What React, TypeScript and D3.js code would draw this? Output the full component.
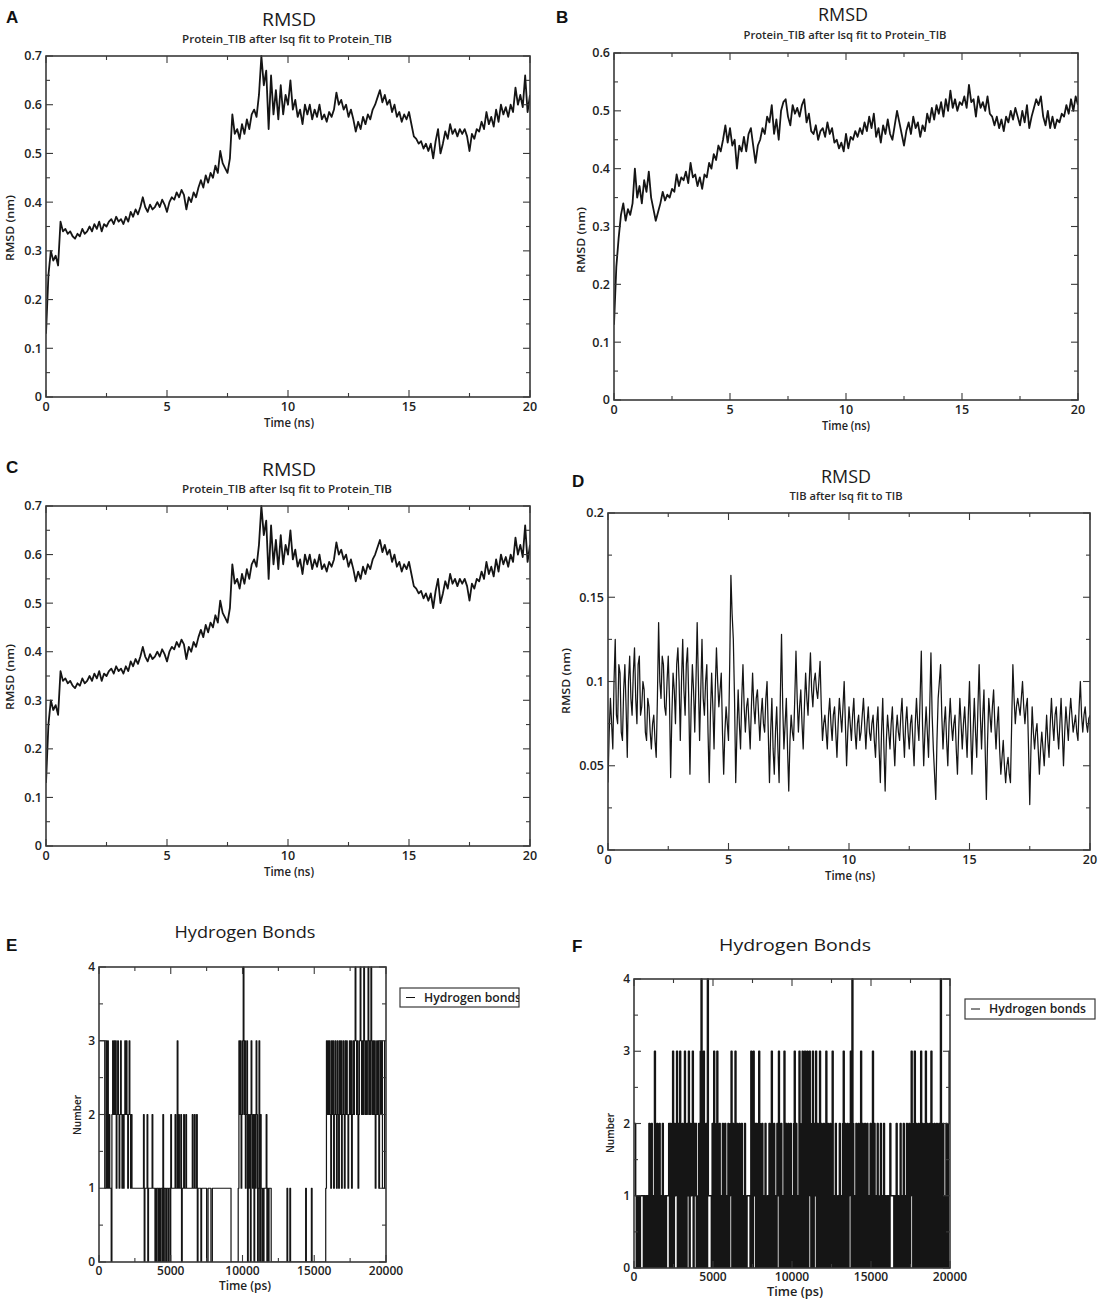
import React from 'react';
import * as d3 from 'd3';

// sampling intervals of the trajectories
const RMSD_STEP_NS = 0.1;
const LIGAND_STEP_NS = 0.05;
const HB_STEP_PS = 50;

// A / C: Protein_TIB backbone RMSD (nm), one value every 0.1 ns
const rmsdProteinA = [
  0.13, 0.25, 0.30, 0.28, 0.29, 0.27, 0.36, 0.34, 0.345, 0.335,
  0.34, 0.33, 0.325, 0.335, 0.33, 0.345, 0.335, 0.34, 0.35, 0.34,
  0.355, 0.345, 0.36, 0.34, 0.355, 0.35, 0.36, 0.365, 0.355, 0.37,
  0.36, 0.365, 0.355, 0.37, 0.36, 0.38, 0.37, 0.385, 0.375, 0.39,
  0.41, 0.39, 0.38, 0.395, 0.385, 0.39, 0.40, 0.39, 0.405, 0.395,
  0.38, 0.40, 0.41, 0.405, 0.42, 0.41, 0.425, 0.415, 0.385, 0.41,
  0.40, 0.42, 0.41, 0.43, 0.445, 0.43, 0.455, 0.44, 0.46, 0.45,
  0.475, 0.46, 0.505, 0.48, 0.47, 0.46, 0.49, 0.58, 0.54, 0.55,
  0.53, 0.56, 0.54, 0.57, 0.55, 0.58, 0.59, 0.575, 0.62, 0.70,
  0.64, 0.67, 0.55, 0.66, 0.58, 0.63, 0.57, 0.64, 0.58, 0.62,
  0.60, 0.65, 0.59, 0.61, 0.575, 0.59, 0.56, 0.60, 0.58, 0.60,
  0.57, 0.59, 0.575, 0.60, 0.57, 0.58, 0.565, 0.585, 0.575, 0.59,
  0.625, 0.60, 0.61, 0.59, 0.60, 0.575, 0.59, 0.57, 0.545, 0.565,
  0.55, 0.575, 0.56, 0.58, 0.57, 0.59, 0.60, 0.615, 0.63, 0.605,
  0.62, 0.60, 0.61, 0.585, 0.60, 0.575, 0.585, 0.565, 0.58, 0.57,
  0.585, 0.56, 0.535, 0.53, 0.52, 0.525, 0.51, 0.52, 0.505, 0.52,
  0.49, 0.525, 0.55, 0.50, 0.52, 0.545, 0.53, 0.56, 0.54, 0.55,
  0.535, 0.55, 0.54, 0.55, 0.535, 0.505, 0.54, 0.53, 0.55, 0.545,
  0.565, 0.55, 0.585, 0.56, 0.575, 0.555, 0.59, 0.565, 0.60, 0.58,
  0.595, 0.575, 0.60, 0.585, 0.635, 0.60, 0.62, 0.595, 0.66, 0.585,
  0.62,
];

// B: Protein_TIB RMSD (nm)
const rmsdProteinB = [
  0.13, 0.23, 0.28, 0.32, 0.34, 0.31, 0.33, 0.32, 0.34, 0.40,
  0.35, 0.37, 0.34, 0.38, 0.36, 0.395, 0.35, 0.33, 0.31, 0.325,
  0.34, 0.36, 0.345, 0.355, 0.35, 0.365, 0.36, 0.39, 0.37, 0.385,
  0.38, 0.395, 0.375, 0.41, 0.385, 0.39, 0.37, 0.385, 0.365, 0.39,
  0.385, 0.41, 0.40, 0.425, 0.415, 0.44, 0.43, 0.45, 0.475, 0.445,
  0.47, 0.44, 0.45, 0.40, 0.44, 0.43, 0.455, 0.43, 0.46, 0.47,
  0.44, 0.41, 0.44, 0.45, 0.47, 0.46, 0.49, 0.48, 0.51, 0.46,
  0.485, 0.45, 0.50, 0.515, 0.52, 0.49, 0.475, 0.51, 0.495, 0.505,
  0.49, 0.51, 0.52, 0.48, 0.495, 0.465, 0.46, 0.475, 0.45, 0.465,
  0.47, 0.455, 0.48, 0.46, 0.47, 0.445, 0.45, 0.435, 0.445, 0.43,
  0.46, 0.435, 0.455, 0.45, 0.465, 0.455, 0.47, 0.46, 0.48, 0.465,
  0.49, 0.47, 0.495, 0.455, 0.47, 0.445, 0.475, 0.46, 0.485, 0.46,
  0.45, 0.475, 0.50, 0.48, 0.46, 0.44, 0.465, 0.48, 0.46, 0.49,
  0.47, 0.48, 0.455, 0.475, 0.465, 0.495, 0.48, 0.505, 0.485, 0.51,
  0.495, 0.515, 0.49, 0.52, 0.50, 0.535, 0.505, 0.52, 0.50, 0.515,
  0.51, 0.525, 0.505, 0.545, 0.515, 0.52, 0.49, 0.525, 0.505, 0.515,
  0.50, 0.525, 0.495, 0.49, 0.475, 0.49, 0.47, 0.485, 0.465, 0.49,
  0.48, 0.50, 0.485, 0.505, 0.49, 0.475, 0.50, 0.48, 0.51, 0.47,
  0.49, 0.505, 0.52, 0.51, 0.525, 0.49, 0.475, 0.50, 0.47, 0.49,
  0.47, 0.485, 0.48, 0.495, 0.49, 0.51, 0.495, 0.52, 0.50, 0.525,
  0.51,
];

// D: TIB ligand RMSD (nm), one value every 0.05 ns
const rmsdLigandD = [
  0.04, 0.07, 0.09, 0.075, 0.06, 0.10, 0.125, 0.08, 0.075, 0.11, 0.105, 0.07, 0.065, 0.095, 0.11, 0.085, 0.055, 0.10, 0.115, 0.09,
  0.08, 0.105, 0.12, 0.09, 0.075, 0.11, 0.115, 0.08, 0.085, 0.10, 0.095, 0.07, 0.065, 0.09, 0.085, 0.07, 0.06, 0.075, 0.08, 0.065,
  0.055, 0.09, 0.135, 0.10, 0.09, 0.115, 0.11, 0.085, 0.08, 0.10, 0.115, 0.09, 0.043, 0.08, 0.105, 0.095, 0.075, 0.11, 0.12, 0.10,
  0.065, 0.10, 0.125, 0.095, 0.08, 0.11, 0.12, 0.09, 0.045, 0.085, 0.11, 0.095, 0.07, 0.10, 0.135, 0.10, 0.065, 0.095, 0.125, 0.09,
  0.08, 0.10, 0.11, 0.07, 0.04, 0.08, 0.105, 0.085, 0.06, 0.095, 0.12, 0.10, 0.085, 0.095, 0.105, 0.07, 0.045, 0.07, 0.085, 0.075,
  0.065, 0.11, 0.163, 0.14, 0.125, 0.09, 0.04, 0.07, 0.095, 0.075, 0.06, 0.09, 0.11, 0.085, 0.07, 0.085, 0.09, 0.075, 0.06, 0.085,
  0.105, 0.085, 0.075, 0.09, 0.095, 0.08, 0.065, 0.08, 0.09, 0.075, 0.07, 0.09, 0.10, 0.07, 0.04, 0.07, 0.09, 0.06, 0.045, 0.07,
  0.085, 0.06, 0.04, 0.09, 0.128, 0.085, 0.06, 0.075, 0.09, 0.06, 0.035, 0.065, 0.08, 0.07, 0.065, 0.09, 0.118, 0.09, 0.07, 0.085,
  0.095, 0.075, 0.06, 0.085, 0.105, 0.09, 0.08, 0.10, 0.117, 0.095, 0.085, 0.10, 0.105, 0.095, 0.09, 0.10, 0.112, 0.085, 0.065, 0.075,
  0.08, 0.07, 0.06, 0.08, 0.09, 0.075, 0.065, 0.08, 0.085, 0.07, 0.055, 0.075, 0.09, 0.08, 0.07, 0.085, 0.10, 0.075, 0.05, 0.07,
  0.085, 0.075, 0.065, 0.08, 0.09, 0.07, 0.06, 0.075, 0.08, 0.065, 0.07, 0.08, 0.09, 0.075, 0.06, 0.075, 0.085, 0.07, 0.065, 0.075,
  0.08, 0.065, 0.055, 0.075, 0.085, 0.06, 0.04, 0.07, 0.09, 0.06, 0.035, 0.065, 0.08, 0.07, 0.06, 0.075, 0.085, 0.065, 0.05, 0.07,
  0.08, 0.07, 0.065, 0.08, 0.09, 0.07, 0.055, 0.075, 0.085, 0.07, 0.06, 0.075, 0.08, 0.065, 0.05, 0.075, 0.09, 0.075, 0.065, 0.09,
  0.118, 0.075, 0.05, 0.07, 0.085, 0.07, 0.055, 0.085, 0.117, 0.08, 0.06, 0.045, 0.03, 0.065, 0.09, 0.10, 0.11, 0.08, 0.06, 0.075,
  0.085, 0.065, 0.05, 0.075, 0.09, 0.075, 0.065, 0.075, 0.08, 0.06, 0.045, 0.07, 0.09, 0.075, 0.06, 0.075, 0.085, 0.07, 0.055, 0.08,
  0.10, 0.07, 0.045, 0.07, 0.09, 0.07, 0.055, 0.085, 0.11, 0.08, 0.06, 0.08, 0.095, 0.06, 0.03, 0.065, 0.09, 0.08, 0.07, 0.085,
  0.095, 0.075, 0.06, 0.075, 0.085, 0.06, 0.045, 0.055, 0.065, 0.05, 0.04, 0.05, 0.055, 0.045, 0.04, 0.075, 0.11, 0.09, 0.075, 0.085,
  0.09, 0.085, 0.08, 0.09, 0.10, 0.085, 0.075, 0.085, 0.09, 0.06, 0.027, 0.06, 0.085, 0.07, 0.06, 0.07, 0.075, 0.06, 0.045, 0.06,
  0.07, 0.06, 0.05, 0.065, 0.08, 0.065, 0.055, 0.075, 0.09, 0.075, 0.065, 0.08, 0.085, 0.07, 0.06, 0.075, 0.09, 0.07, 0.05, 0.07,
  0.085, 0.075, 0.065, 0.08, 0.09, 0.08, 0.07, 0.075, 0.08, 0.07, 0.065, 0.085, 0.10, 0.08, 0.07, 0.08, 0.085, 0.075, 0.07, 0.078,
  0.08,
];

// E: hydrogen bonds protein-TIB, one count every 50 ps
const hbondsE = [
  3, 3, 3, 3, 3, 3, 3, 3, 1, 1, 3, 1, 3, 1, 2, 1, 1, 0, 2, 3,
  2, 3, 2, 3, 1, 2, 3, 2, 1, 2, 3, 2, 1, 2, 1, 2, 3, 2, 3, 2,
  1, 2, 3, 2, 1, 2, 1, 1, 1, 1, 1, 1, 1, 1, 1, 1, 1, 1, 1, 1,
  1, 1, 2, 0, 1, 1, 1, 2, 0, 1, 1, 1, 1, 1, 2, 1, 1, 1, 0, 1,
  0, 1, 1, 0, 1, 0, 1, 1, 0, 2, 0, 1, 1, 0, 1, 1, 0, 1, 1, 0,
  2, 1, 1, 1, 1, 1, 2, 1, 1, 3, 1, 2, 1, 1, 2, 0, 1, 1, 2, 1,
  1, 2, 1, 1, 1, 1, 1, 1, 1, 1, 2, 1, 1, 2, 1, 1, 2, 0, 1, 1,
  1, 1, 0, 1, 1, 1, 1, 1, 1, 1, 0, 0, 1, 1, 1, 1, 0, 0, 1, 1,
  1, 1, 1, 1, 1, 1, 1, 1, 1, 1, 1, 1, 1, 1, 1, 1, 1, 1, 1, 1,
  1, 1, 1, 1, 0, 0, 0, 0, 0, 0, 0, 0, 0, 0, 1, 3, 2, 3, 1, 2,
  3, 4, 2, 3, 1, 2, 3, 0, 2, 1, 2, 0, 3, 2, 1, 2, 0, 2, 1, 3,
  2, 0, 1, 3, 0, 2, 1, 0, 1, 0, 1, 1, 1, 2, 0, 1, 0, 1, 1, 1,
  0, 0, 0, 0, 0, 0, 0, 0, 0, 0, 0, 0, 0, 0, 0, 0, 0, 0, 0, 0,
  0, 0, 1, 0, 0, 0, 1, 0, 0, 0, 0, 0, 0, 0, 0, 0, 0, 0, 0, 0,
  0, 0, 0, 0, 0, 0, 0, 0, 1, 0, 0, 0, 0, 0, 0, 0, 1, 0, 0, 0,
  0, 0, 0, 0, 0, 0, 0, 0, 0, 0, 0, 0, 0, 0, 0, 0, 1, 3, 2, 3,
  2, 3, 2, 1, 3, 2, 3, 1, 2, 3, 2, 1, 3, 2, 1, 3, 2, 3, 1, 2,
  3, 2, 1, 3, 2, 3, 2, 1, 2, 3, 2, 3, 1, 2, 3, 2, 3, 4, 3, 2,
  3, 1, 2, 3, 4, 3, 2, 3, 2, 4, 3, 2, 3, 2, 3, 4, 2, 3, 2, 4,
  3, 2, 3, 2, 3, 1, 2, 3, 2, 3, 1, 2, 3, 2, 3, 1, 1, 1, 3, 3,
  3,
];

// F: hydrogen bonds, second complex
const hbondsF = [
  2, 2, 1, 0, 1, 0, 1, 0, 1, 1, 1, 1, 0, 1, 0, 1, 0, 1, 0, 2,
  0, 1, 2, 0, 1, 0, 3, 0, 1, 2, 0, 1, 2, 0, 1, 0, 2, 1, 0, 1,
  0, 1, 1, 1, 2, 0, 2, 0, 2, 3, 0, 2, 1, 2, 3, 0, 2, 0, 3, 2,
  0, 2, 1, 0, 3, 2, 0, 2, 1, 3, 0, 2, 1, 2, 3, 0, 2, 1, 2, 0,
  0, 1, 2, 0, 3, 4, 0, 1, 3, 0, 1, 2, 0, 4, 1, 1, 1, 1, 0, 2,
  0, 3, 1, 0, 2, 3, 0, 1, 2, 0, 1, 0, 2, 0, 1, 2, 0, 1, 0, 2,
  0, 1, 2, 3, 0, 2, 0, 1, 3, 0, 2, 1, 0, 2, 0, 1, 2, 0, 1, 0,
  2, 1, 0, 1, 1, 1, 1, 0, 3, 2, 0, 3, 1, 2, 0, 2, 1, 0, 3, 2,
  0, 1, 2, 0, 1, 0, 2, 1, 0, 1, 0, 2, 0, 1, 3, 0, 1, 2, 0, 1,
  0, 2, 1, 3, 0, 1, 2, 0, 1, 0, 3, 0, 2, 1, 0, 2, 0, 1, 2, 0,
  1, 0, 2, 3, 0, 2, 0, 1, 0, 3, 2, 0, 1, 3, 0, 2, 3, 0, 2, 3,
  0, 2, 3, 1, 0, 2, 3, 0, 2, 1, 3, 0, 2, 0, 1, 3, 0, 2, 1, 0,
  2, 0, 1, 3, 0, 2, 0, 1, 2, 0, 1, 3, 0, 1, 0, 2, 1, 0, 1, 0,
  2, 0, 1, 0, 2, 3, 0, 2, 0, 1, 2, 0, 1, 2, 3, 0, 4, 2, 0, 1,
  0, 2, 0, 1, 2, 0, 1, 3, 0, 2, 1, 0, 2, 0, 1, 2, 0, 1, 0, 2,
  0, 1, 3, 0, 2, 0, 1, 0, 2, 1, 0, 1, 2, 0, 1, 0, 2, 0, 1, 0,
  1, 0, 1, 0, 2, 1, 1, 1, 1, 0, 1, 0, 2, 0, 1, 0, 1, 2, 0, 1,
  0, 2, 0, 1, 0, 2, 1, 0, 2, 0, 1, 3, 2, 0, 2, 3, 0, 2, 1, 0,
  2, 0, 1, 3, 0, 2, 1, 0, 2, 3, 0, 2, 0, 1, 2, 0, 3, 2, 0, 1,
  2, 0, 1, 2, 0, 1, 2, 0, 4, 0, 1, 2, 0, 1, 0, 2, 1, 0, 2, 3,
  3,
];

const nsTicks = [0, 5, 10, 15, 20];
const psTicks = [0, 5000, 10000, 15000, 20000];
const rmsdTicksA = [0, 0.1, 0.2, 0.3, 0.4, 0.5, 0.6, 0.7];
const rmsdTicksB = [0, 0.1, 0.2, 0.3, 0.4, 0.5, 0.6];
const rmsdTicksD = [0, 0.05, 0.1, 0.15, 0.2];
const hbondTicks = [0, 1, 2, 3, 4];

const FONT = '"Open Sans", "Noto Sans", sans-serif';
const AXIS = '#3a3a3a';

type Box = { x0: number; y0: number; x1: number; y1: number };

interface PanelProps {
  id: string;
  letter: [string, number, number];
  title: [string, number, number, number, number]; // text, cx, baseline, size, width
  subtitle?: [string, number, number, number];
  box: Box;
  xMax: number;
  xTicks: number[];
  xMinor: number;
  yMax: number;
  yTicks: number[];
  yMinor: number;
  tickSize: number;
  xLabel: [string, number, number, number];
  yLabel: [string, number, number, number];
  values: number[];
  step: number;
  stroke: number;
  stepped?: boolean;
  legend?: Box;
}

const Panel: React.FC<PanelProps> = (p) => {
  const { box } = p;
  const x = d3.scaleLinear().domain([0, p.xMax]).range([box.x0, box.x1]);
  const y = d3.scaleLinear().domain([0, p.yMax]).range([box.y1, box.y0]);

  const line = d3.line<number>()
    .x((_, i) => x(i * p.step))
    .y(d => y(d))
    .curve(p.stepped ? d3.curveStepAfter : d3.curveLinear);

  const xMinor = d3.range(0, p.xMax + 1e-9, p.xMinor).filter(v => !p.xTicks.some(t => Math.abs(t - v) < 1e-9));
  const yMinor = d3.range(0, p.yMax + 1e-9, p.yMinor).filter(v => !p.yTicks.some(t => Math.abs(t - v) < 1e-9));

  const major = 7;
  const minor = 4;

  const xTickMarks = (vals: number[], len: number) => vals.map(v => (
    <g key={`x${len}-${v}`}>
      <line x1={x(v)} x2={x(v)} y1={box.y1} y2={box.y1 - len} />
      <line x1={x(v)} x2={x(v)} y1={box.y0} y2={box.y0 + len} />
    </g>
  ));
  const yTickMarks = (vals: number[], len: number) => vals.map(v => (
    <g key={`y${len}-${v}`}>
      <line x1={box.x0} x2={box.x0 + len} y1={y(v)} y2={y(v)} />
      <line x1={box.x1} x2={box.x1 - len} y1={y(v)} y2={y(v)} />
    </g>
  ));

  const legMid = p.legend ? (p.legend.y0 + p.legend.y1) / 2 : 0;

  return (
    <g>
      <defs>
        <clipPath id={`clip-${p.id}`}>
          <rect x={box.x0} y={box.y0 - 1} width={box.x1 - box.x0} height={box.y1 - box.y0 + 1} />
        </clipPath>
        {p.legend && (
          <clipPath id={`leg-${p.id}`}>
            <rect x={p.legend.x0} y={p.legend.y0} width={p.legend.x1 - p.legend.x0} height={p.legend.y1 - p.legend.y0} />
          </clipPath>
        )}
      </defs>

      <text x={p.letter[1]} y={p.letter[2]} fontFamily='"Liberation Sans", Arial, sans-serif'
        fontWeight="bold" fontSize={17} fill="#111">{p.letter[0]}</text>

      <text x={p.title[1]} y={p.title[2]} textAnchor="middle" fontFamily={FONT} fontSize={p.title[3]}
        textLength={p.title[4]} lengthAdjust="spacingAndGlyphs" fill="#1a1a1a">{p.title[0]}</text>
      {p.subtitle && (
        <text x={p.subtitle[1]} y={p.subtitle[2]} textAnchor="middle" fontFamily={FONT} fontSize={11}
          fontWeight={600} textLength={p.subtitle[3]} lengthAdjust="spacingAndGlyphs" fill="#2a2a2a">{p.subtitle[0]}</text>
      )}

      <path d={line(p.values) ?? ''} fill="none" stroke="#151515" strokeWidth={p.stroke}
        strokeLinejoin="round" clipPath={`url(#clip-${p.id})`} />

      <g stroke={AXIS} strokeWidth={1.1}>
        {xTickMarks(p.xTicks, major)}
        {xTickMarks(xMinor, minor)}
        {yTickMarks(p.yTicks, major)}
        {yTickMarks(yMinor, minor)}
        <rect x={box.x0} y={box.y0} width={box.x1 - box.x0} height={box.y1 - box.y0} fill="none" strokeWidth={1.6} />
      </g>

      <g fontFamily={FONT} fontSize={p.tickSize} fontWeight={600} fill="#222">
        {p.xTicks.map(v => (
          <text key={`xl${v}`} x={x(v)} y={box.y1 + p.tickSize + 1} textAnchor="middle">{v}</text>
        ))}
        {p.yTicks.map(v => (
          <text key={`yl${v}`} x={box.x0 - 4} y={y(v)} dy="0.35em" textAnchor="end">{v}</text>
        ))}
      </g>

      <text x={p.xLabel[1]} y={p.xLabel[2]} textAnchor="middle" fontFamily={FONT} fontSize={12}
        fontWeight={600} textLength={p.xLabel[3]} lengthAdjust="spacingAndGlyphs" fill="#222">{p.xLabel[0]}</text>
      <text transform={`translate(${p.yLabel[1]},${p.yLabel[2]}) rotate(-90)`} textAnchor="middle"
        fontFamily={FONT} fontSize={11} fontWeight={600} textLength={p.yLabel[3]} lengthAdjust="spacingAndGlyphs"
        fill="#222">{p.yLabel[0]}</text>

      {p.legend && (
        <g>
          <rect x={p.legend.x0} y={p.legend.y0} width={p.legend.x1 - p.legend.x0} height={p.legend.y1 - p.legend.y0}
            fill="#fff" stroke={AXIS} strokeWidth={1.2} />
          <g clipPath={`url(#leg-${p.id})`}>
            <line x1={p.legend.x0 + 6} x2={p.legend.x0 + 15} y1={legMid} y2={legMid} stroke="#111" strokeWidth={1} />
            <text x={p.legend.x0 + 24} y={legMid} dy="0.35em" fontFamily={FONT}
              fontSize={12.2} fontWeight={600} fill="#222">Hydrogen bonds</text>
          </g>
        </g>
      )}
    </g>
  );
};

export default function App() {
  return (
    <svg width={1104} height={1300} style={{ position: 'absolute', left: 0, top: 0, background: '#fff' }}>
      <rect width={1104} height={1300} fill="#fff" />
      <Panel id="A" letter={['A', 6, 23]} title={['RMSD', 289, 26, 19, 54]}
        subtitle={['Protein_TIB after lsq fit to Protein_TIB', 287, 43, 210]}
        box={{ x0: 46, y0: 56, x1: 530, y1: 397 }} xMax={20} xTicks={nsTicks} xMinor={2.5}
        yMax={0.7} yTicks={rmsdTicksA} yMinor={0.05} tickSize={12.5}
        xLabel={['Time (ns)', 289, 427, 50]} yLabel={['RMSD (nm)', 14, 228, 66]}
        values={rmsdProteinA} step={RMSD_STEP_NS} stroke={1.8} />
      <Panel id="B" letter={['B', 556, 23]} title={['RMSD', 843, 21, 19, 50]}
        subtitle={['Protein_TIB after lsq fit to Protein_TIB', 845, 39, 203]}
        box={{ x0: 614, y0: 53, x1: 1078, y1: 400 }} xMax={20} xTicks={nsTicks} xMinor={2.5}
        yMax={0.6} yTicks={rmsdTicksB} yMinor={0.05} tickSize={12.5}
        xLabel={['Time (ns)', 846, 430, 48]} yLabel={['RMSD (nm)', 585, 240, 66]}
        values={rmsdProteinB} step={RMSD_STEP_NS} stroke={1.8} />
      <Panel id="C" letter={['C', 6, 473]} title={['RMSD', 289, 476, 19, 54]}
        subtitle={['Protein_TIB after lsq fit to Protein_TIB', 287, 493, 210]}
        box={{ x0: 46, y0: 506, x1: 530, y1: 846 }} xMax={20} xTicks={nsTicks} xMinor={2.5}
        yMax={0.7} yTicks={rmsdTicksA} yMinor={0.05} tickSize={12.5}
        xLabel={['Time (ns)', 289, 876, 50]} yLabel={['RMSD (nm)', 14, 677, 66]}
        values={rmsdProteinA} step={RMSD_STEP_NS} stroke={1.8} />
      <Panel id="D" letter={['D', 572, 487]} title={['RMSD', 846, 483, 19, 50]}
        subtitle={['TIB after lsq fit to TIB', 846, 500, 113]}
        box={{ x0: 608, y0: 513, x1: 1090, y1: 850 }} xMax={20} xTicks={nsTicks} xMinor={2.5}
        yMax={0.2} yTicks={rmsdTicksD} yMinor={0.025} tickSize={12.5}
        xLabel={['Time (ns)', 850, 880, 50]} yLabel={['RMSD (nm)', 570, 681, 66]}
        values={rmsdLigandD} step={LIGAND_STEP_NS} stroke={1.25} />
      <Panel id="E" letter={['E', 6, 951]} title={['Hydrogen Bonds', 245, 938, 16, 141]}
        box={{ x0: 99, y0: 967, x1: 386, y1: 1262 }} xMax={20000} xTicks={psTicks} xMinor={2500}
        yMax={4} yTicks={hbondTicks} yMinor={0.5} tickSize={12}
        xLabel={['Time (ps)', 245, 1290, 52]} yLabel={['Number', 81, 1115, 40]}
        values={hbondsE} step={HB_STEP_PS} stroke={1.2} stepped legend={{ x0: 400, y0: 988, x1: 519, y1: 1007 }} />
      <Panel id="F" letter={['F', 572, 952]} title={['Hydrogen Bonds', 795, 951, 16, 152]}
        box={{ x0: 634, y0: 979, x1: 950, y1: 1268 }} xMax={20000} xTicks={psTicks} xMinor={2500}
        yMax={4} yTicks={hbondTicks} yMinor={0.5} tickSize={12}
        xLabel={['Time (ps)', 795, 1296, 56]} yLabel={['Number', 614, 1133, 40]}
        values={hbondsF} step={HB_STEP_PS} stroke={1.6} stepped legend={{ x0: 965, y0: 999, x1: 1095, y1: 1019 }} />
    </svg>
  );
}
